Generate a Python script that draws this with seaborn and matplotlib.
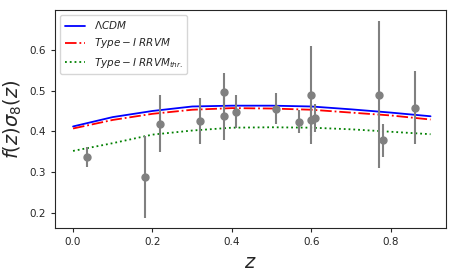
import numpy as np
import pandas as pd
import matplotlib
matplotlib.use("Agg")
import matplotlib.pyplot as plt
import seaborn as sns

# данные fσ8
z_data = [0.035, 0.18, 0.22, 0.32, 0.38, 0.38, 0.41, 0.51, 0.57, 0.60, 0.60, 0.61, 0.77, 0.78, 0.86]
fs8_data = [0.337, 0.288, 0.419, 0.426, 0.497, 0.437, 0.448, 0.456, 0.424, 0.490, 0.428, 0.433, 0.490, 0.378, 0.458]
fs8_err = [0.025, 0.100, 0.070, 0.056, 0.045, 0.058, 0.040, 0.038, 0.028, 0.120, 0.040, 0.034, 0.180, 0.040, 0.090]

# кривые моделей
z_curve = [0.0, 0.1, 0.2, 0.3, 0.4, 0.5, 0.6, 0.7, 0.8, 0.9]
lcdm = [0.412, 0.435, 0.450, 0.461, 0.463, 0.463, 0.461, 0.454, 0.446, 0.437]
rrvm = [0.407, 0.428, 0.443, 0.453, 0.457, 0.456, 0.453, 0.446, 0.439, 0.429]
rrvm_thr = [0.352, 0.371, 0.392, 0.402, 0.409, 0.410, 0.409, 0.405, 0.399, 0.393]

sns.set_style("ticks")
fig = plt.figure(figsize=(4.56, 2.74), dpi=100)
ax = fig.add_axes([0.121, 0.168, 0.858, 0.796])

curves = pd.DataFrame({"z": z_curve, "lcdm": lcdm, "rrvm": rrvm, "thr": rrvm_thr})
sns.lineplot(data=curves, x="z", y="lcdm", ax=ax, color="blue", lw=1.3,
             label=r"$\Lambda CDM$")
sns.lineplot(data=curves, x="z", y="rrvm", ax=ax, color="red", lw=1.3,
             label=r"$Type-I\ RRVM$")
ax.lines[-1].set_linestyle("-.")
sns.lineplot(data=curves, x="z", y="thr", ax=ax, color="green", lw=1.3,
             label=r"$Type-I\ RRVM_{thr.}$")
ax.lines[-1].set_linestyle(":")

ax.errorbar(z_data, fs8_data, yerr=fs8_err, fmt="o", color="grey",
            ms=5, elinewidth=1.5, capsize=0)

ax.set_xlim(-0.045, 0.94)
ax.set_ylim(0.163, 0.698)
ax.set_xticks([0.0, 0.2, 0.4, 0.6, 0.8])
ax.set_yticks([0.2, 0.3, 0.4, 0.5, 0.6])
ax.tick_params(labelsize=7.5, length=3)
ax.set_xlabel(r"$z$", fontsize=14)
ax.set_ylabel(r"$f(z)\sigma_8(z)$", fontsize=14)

ax.legend(loc="upper left", fontsize=7.5, frameon=True)

plt.savefig("out.png", dpi=100)
